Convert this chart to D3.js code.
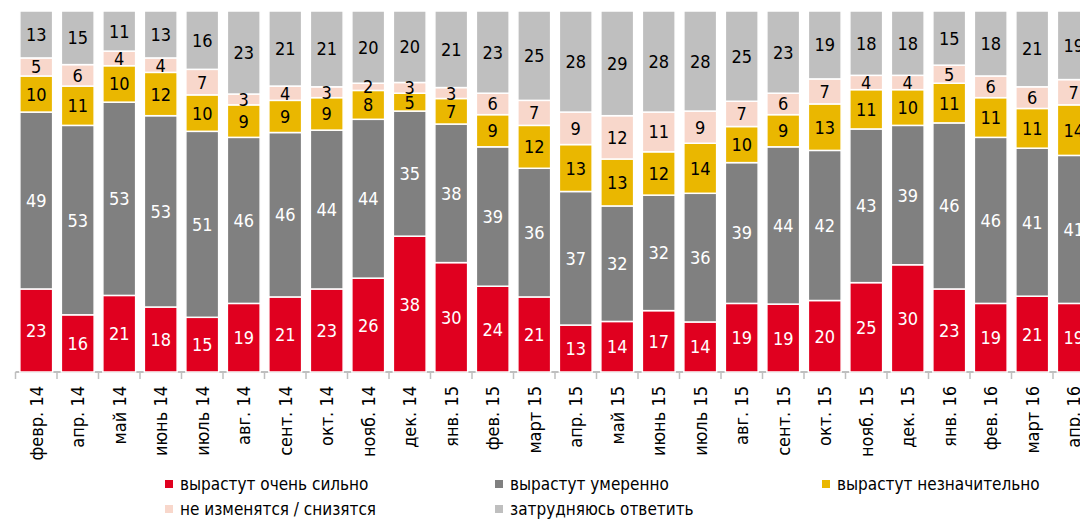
<!DOCTYPE html>
<html>
<head>
<meta charset="utf-8">
<script src="https://cdn.jsdelivr.net/npm/d3@7"></script>
<style>
  body { margin: 0; background: #fff; }
  svg { font-family: "Liberation Sans Narrow", "DejaVu Sans Condensed", sans-serif; }
</style>
</head>
<body>
<svg id="vis"></svg>
<script>
const WIDTH = 1080;
const HEIGHT = 519;

// Месяцы (подписи оси X)
const months = ["февр. 14", "апр. 14", "май 14", "июнь 14", "июль 14", "авг. 14", "сент. 14", "окт. 14",
  "нояб. 14", "дек. 14", "янв. 15", "фев. 15", "март 15", "апр. 15", "май 15", "июнь 15", "июль 15",
  "авг. 15", "сент. 15", "окт. 15", "нояб. 15", "дек. 15", "янв. 16", "фев. 16", "март 16", "апр. 16"];

// Серии (в %), снизу вверх
const veryStrong = [23, 16, 21, 18, 15, 19, 21, 23, 26, 38, 30, 24, 21, 13, 14, 17, 14, 19, 19, 20, 25, 30, 23, 19, 21, 19];
const moderate   = [49, 53, 53, 53, 51, 46, 46, 44, 44, 35, 38, 39, 36, 37, 32, 32, 36, 39, 44, 42, 43, 39, 46, 46, 41, 41];
const slight     = [10, 11, 10, 12, 10, 9, 9, 9, 8, 5, 7, 9, 12, 13, 13, 12, 14, 10, 9, 13, 11, 10, 11, 11, 11, 14];
const noChange   = [5, 6, 4, 4, 7, 3, 4, 3, 2, 3, 3, 6, 7, 9, 12, 11, 9, 7, 6, 7, 4, 4, 5, 6, 6, 7];
const hardToSay  = [13, 15, 11, 13, 16, 23, 21, 21, 20, 20, 21, 23, 25, 28, 29, 28, 28, 25, 23, 19, 18, 18, 15, 18, 21, 19];

const seriesNames = ["вырастут очень сильно", "вырастут умеренно", "вырастут незначительно",
  "не изменятся / снизятся", "затрудняюсь ответить"];
const seriesColors = ["#E0001F", "#808080", "#EAB700", "#F8D7CB", "#BFBFBF"];
const labelColors = ["#fff", "#fff", "#000", "#000", "#000"];
const seriesValues = [veryStrong, moderate, slight, noChange, hardToSay];

const svg = d3.select("#vis")
    .attr("width", WIDTH)
    .attr("height", HEIGHT);

// строим таблицу для d3.stack
const rows = months.map((m, i) => {
    const r = { month: m };
    seriesNames.forEach((s, k) => r[s] = seriesValues[k][i]);
    return r;
});

const stacked = d3.stack()
    .keys(seriesNames)
    .offset(d3.stackOffsetExpand)(rows);

// шкалы
const step = 41.5;
const x = d3.scaleBand()
    .domain(months)
    .range([15.5, 15.5 + step * months.length])
    .paddingInner(0.21)
    .paddingOuter(0.105);
const y = d3.scaleLinear().domain([0, 1]).range([372, 11]);

// ось X
const axisG = svg.append("g")
    .attr("transform", "translate(0,372)")
    .call(d3.axisBottom(x).tickSize(0).tickPadding(0));
axisG.select(".domain").remove();
axisG.append("line")
    .attr("x1", 15.5).attr("x2", WIDTH)
    .attr("stroke", "#BFBFBF").attr("stroke-width", 2);

// деления между категориями
axisG.selectAll(".sep")
    .data(months)
    .join("line")
    .attr("class", "sep")
    .attr("x1", d => x(d) - x.step() * x.paddingInner() / 2)
    .attr("x2", d => x(d) - x.step() * x.paddingInner() / 2)
    .attr("y1", 0).attr("y2", 7)
    .attr("stroke", "#BFBFBF").attr("stroke-width", 1.5);

axisG.selectAll(".tick text")
    .attr("transform", "rotate(-90)")
    .attr("text-anchor", "end")
    .attr("x", -14)
    .attr("y", 0)
    .attr("dy", "0.35em")
    .attr("font-size", 18)
    .attr("font-family", "'Liberation Sans Narrow', 'DejaVu Sans Condensed', sans-serif")
    .attr("fill", "#000");

// столбцы
const layers = svg.append("g").attr("id", "bars")
    .selectAll("g")
    .data(stacked)
    .join("g")
    .attr("fill", (d, k) => seriesColors[k]);

layers.selectAll("rect")
    .data(d => d)
    .join("rect")
    .attr("x", d => x(d.data.month))
    .attr("y", d => y(d[1]))
    .attr("width", x.bandwidth())
    .attr("height", d => y(d[0]) - y(d[1]))
    .attr("stroke", "#fff")
    .attr("stroke-width", 1.5);

// подписи значений
const labelsG = svg.append("g").attr("id", "labels");
stacked.forEach((layer, k) => {
    labelsG.append("g")
        .selectAll("text")
        .data(layer)
        .join("text")
        .attr("x", d => x(d.data.month) + x.bandwidth() / 2)
        .attr("y", d => (y(d[0]) + y(d[1])) / 2)
        .attr("dy", "0.36em")
        .attr("text-anchor", "middle")
        .attr("font-size", 18)
        .attr("fill", labelColors[k])
        .text(d => d.data[layer.key]);
});

// легенда
const legendPos = [[165, 484], [495, 484], [822, 484], [165, 509], [495, 509]];
const legend = svg.append("g").attr("id", "legend")
    .selectAll("g")
    .data(seriesNames)
    .join("g")
    .attr("transform", (d, k) => `translate(${legendPos[k][0]},${legendPos[k][1]})`);

legend.append("rect")
    .attr("x", 0).attr("y", -4)
    .attr("width", 8).attr("height", 8)
    .attr("fill", (d, k) => seriesColors[k]);

legend.append("text")
    .attr("x", 15)
    .attr("dy", "0.35em")
    .attr("font-size", 17)
    .text(d => d);
</script>
</body>
</html>
